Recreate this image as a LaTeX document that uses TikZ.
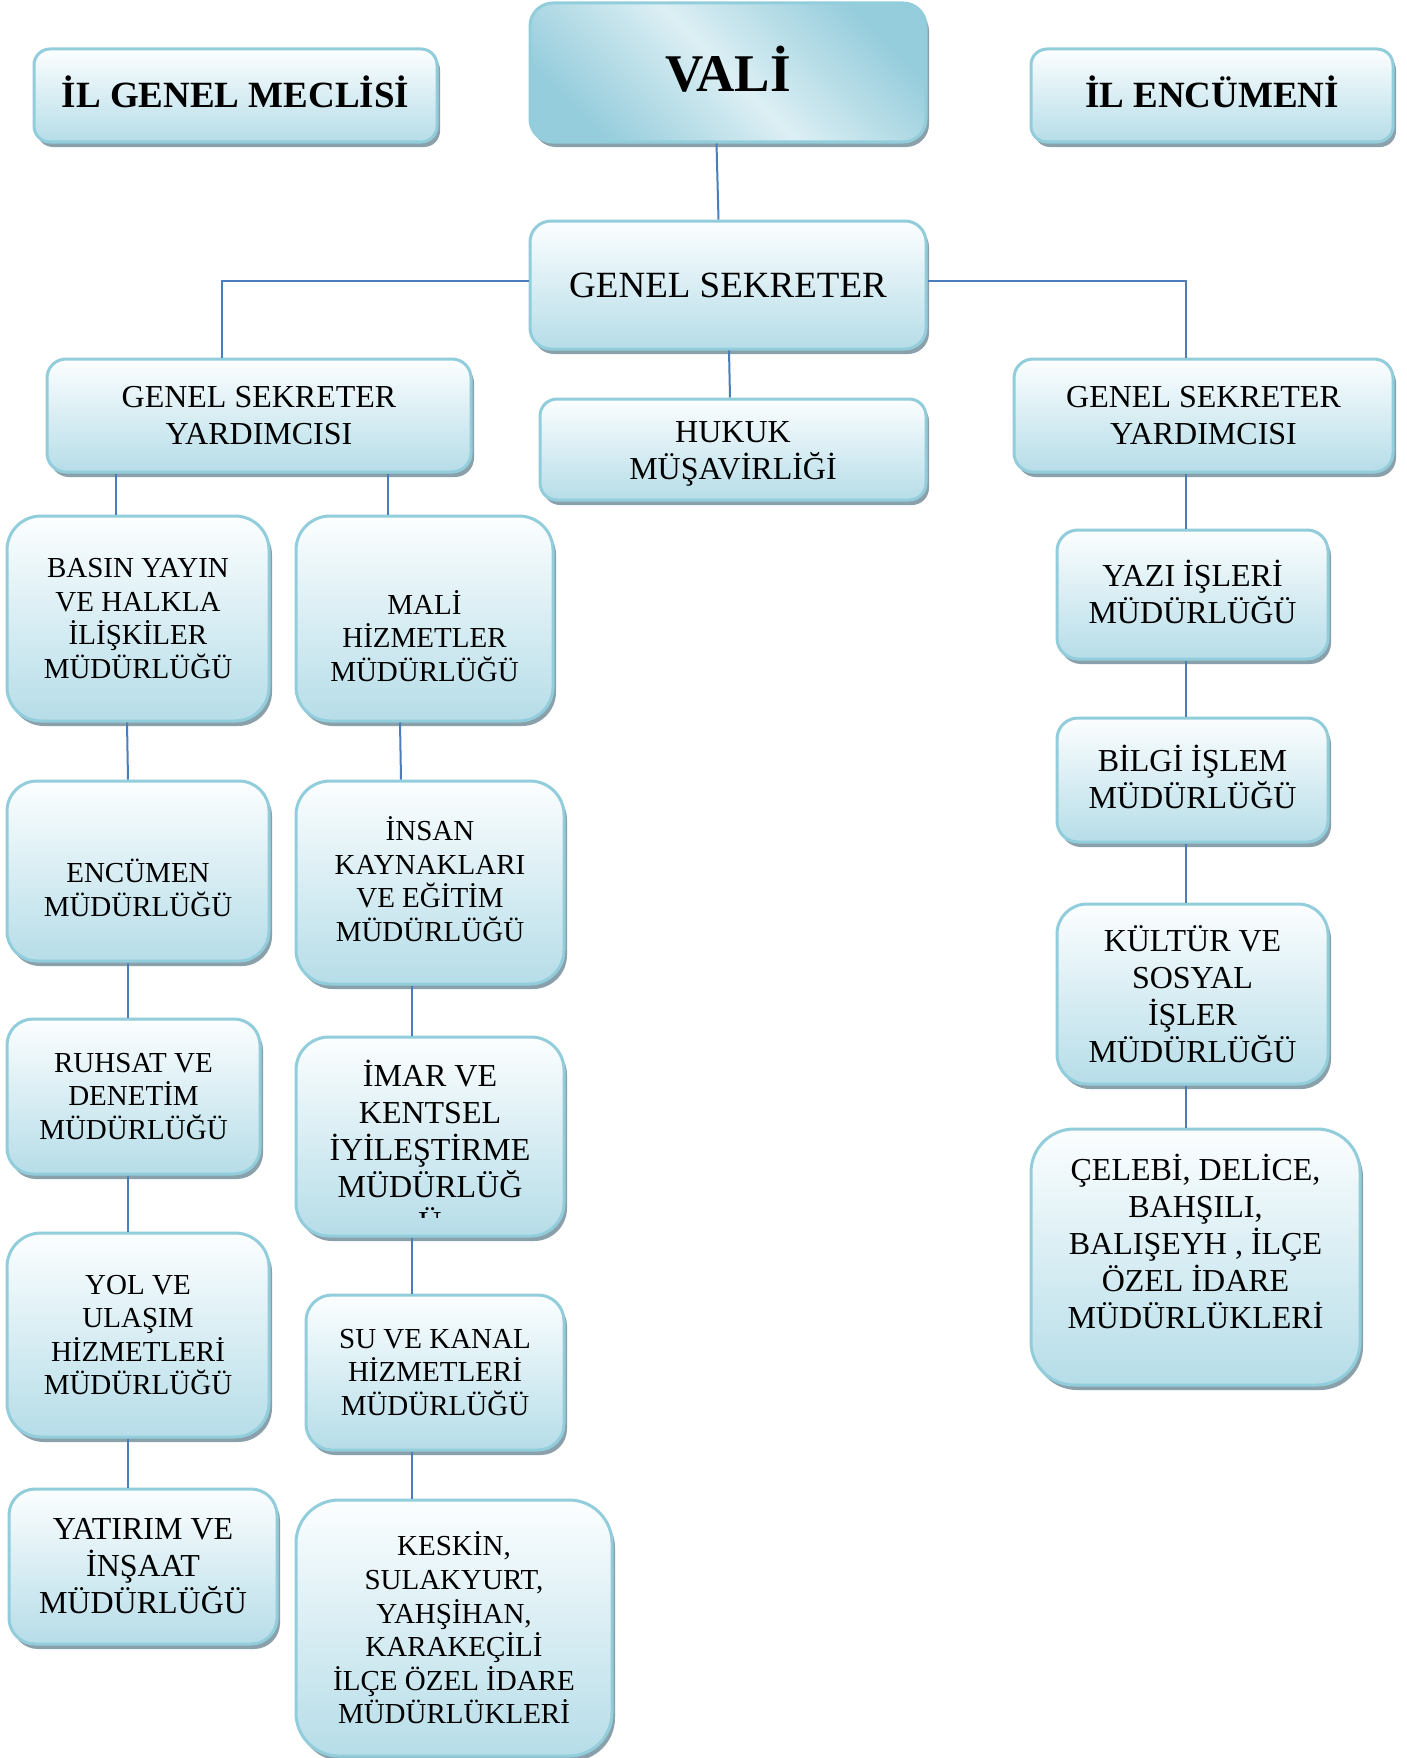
\documentclass[tikz,border=0pt]{standalone}
\usepackage{fontspec}
\setmainfont{Liberation Serif}
\usetikzlibrary{shadows}
\definecolor{boxline}{RGB}{146,205,220}
\definecolor{boxbot}{RGB}{182,221,232}
\definecolor{boxtop}{RGB}{252,254,255}
\definecolor{validark}{RGB}{150,205,220}
\definecolor{valilight}{RGB}{220,239,244}
\definecolor{shadowgray}{RGB}{138,160,170}
\definecolor{linkblue}{RGB}{74,126,187}
\newcommand{\dn}[1]{\rule[-#1]{0pt}{#1}}
\tikzset{
  box/.style={draw=boxline, line width=3pt, top color=boxtop, bottom color=boxbot,
    general shadow={fill=shadowgray, shadow xshift=3pt, shadow yshift=-5pt},
    align=center, inner sep=0pt},
  f29/.style={font=\fontsize{29}{33.6}\selectfont},
  f32/.style={font=\fontsize{32}{37}\selectfont},
  f37/.style={font=\fontsize{37}{42}\selectfont},
  fbold/.style={font=\fontsize{37}{42}\selectfont\bfseries},
  link/.style={draw=linkblue, line width=2pt}
}
\begin{document}
\begin{tikzpicture}[x=1pt,y=-1pt]
\useasboundingbox[fill=white] (0,0) rectangle (1406,1758);

\node[box, fbold, minimum width=403pt, minimum height=93pt, rounded corners=16pt] (meclis) at (235.5,95.5) {İL GENEL MECLİSİ\dn{7pt}};
\node[box, top color=validark, bottom color=validark, middle color=valilight, shading angle=-45,
  font=\fontsize{53}{60}\selectfont\bfseries, minimum width=396pt, minimum height=139pt, rounded corners=23pt] (vali) at (728,72.5) {VALİ\dn{7pt}};
\node[box, fbold, minimum width=362pt, minimum height=93pt, rounded corners=16pt] (encumeni) at (1212,95.5) {İL ENCÜMENİ\dn{7pt}};

\node[box, f37, minimum width=396pt, minimum height=128pt, rounded corners=21pt] (gs) at (728,285) {GENEL SEKRETER};
\node[box, f32, minimum width=424pt, minimum height=113pt, rounded corners=19pt] (gsyL) at (259,415.5) {GENEL SEKRETER\\YARDIMCISI};
\node[box, f32, minimum width=386pt, minimum height=101pt, rounded corners=17pt] (hukuk) at (733,449.5) {HUKUK\rule{0pt}{30pt}\\MÜŞAVİRLİĞİ};
\node[box, f32, minimum width=379pt, minimum height=113pt, rounded corners=19pt] (gsyR) at (1203.5,415.5) {GENEL SEKRETER\\YARDIMCISI};

\node[box, f29, minimum width=262pt, minimum height=205pt, rounded corners=34pt] (basin) at (138,618.5) {BASIN YAYIN\\VE HALKLA\\İLİŞKİLER\\MÜDÜRLÜĞÜ};
\node[box, f29, minimum width=262pt, minimum height=180pt, rounded corners=30pt] (encumen) at (138,871) {\strut\\ENCÜMEN\\MÜDÜRLÜĞÜ};
\node[box, f29, minimum width=253pt, minimum height=155pt, rounded corners=26pt] (ruhsat) at (133.5,1096.5) {RUHSAT VE\\DENETİM\\MÜDÜRLÜĞÜ};
\node[box, f29, minimum width=262pt, minimum height=204pt, rounded corners=34pt] (yol) at (138,1335) {YOL VE\\ULAŞIM\\HİZMETLERİ\\MÜDÜRLÜĞÜ};
\node[box, f32, minimum width=268pt, minimum height=155pt, rounded corners=26pt] (yatirim) at (143,1566.5) {YATIRIM VE\\İNŞAAT\\MÜDÜRLÜĞÜ};

\node[box, f29, minimum width=257pt, minimum height=205pt, rounded corners=34pt] (mali) at (424.5,618.5) {\strut\\MALİ\\HİZMETLER\\MÜDÜRLÜĞÜ};
\node[box, f29, minimum width=268pt, minimum height=203pt, rounded corners=34pt] (insan) at (430,882.5) {İNSAN\\KAYNAKLARI\\VE EĞİTİM\\MÜDÜRLÜĞÜ\dn{7pt}};
\node[box, f32, minimum width=268pt, minimum height=199pt, rounded corners=33pt] (imar) at (430,1136.5) {İMAR VE\\KENTSEL\\İYİLEŞTİRME\\MÜDÜRLÜĞ\dn{16pt}};
\begin{scope}
\clip ([xshift=-40pt,yshift=-61pt]imar.center) rectangle ([xshift=40pt,yshift=-81pt]imar.center);
\node[f32, anchor=base, inner sep=0pt] (imarU) at ([yshift=-96.5pt]imar.center) {Ü};
\end{scope}
\node[box, f29, minimum width=258pt, minimum height=155pt, rounded corners=26pt] (su) at (435,1372.5) {SU VE KANAL\\HİZMETLERİ\\MÜDÜRLÜĞÜ};
\node[box, f29, minimum width=316pt, minimum height=256pt, rounded corners=43pt] (keskin) at (454,1628) {KESKİN,\\SULAKYURT,\\YAHŞİHAN,\\KARAKEÇİLİ\\İLÇE ÖZEL İDARE\\MÜDÜRLÜKLERİ};

\node[box, f32, minimum width=271pt, minimum height=129pt, rounded corners=21pt] (yazi) at (1192.5,594.5) {YAZI İŞLERİ\\MÜDÜRLÜĞÜ\dn{5pt}};
\node[box, f32, minimum width=271pt, minimum height=124pt, rounded corners=21pt] (bilgi) at (1192.5,780) {BİLGİ İŞLEM\\MÜDÜRLÜĞÜ\dn{7pt}};
\node[box, f32, minimum width=271pt, minimum height=180pt, rounded corners=30pt] (kultur) at (1192.5,994) {KÜLTÜR VE\\SOSYAL\\İŞLER\\MÜDÜRLÜĞÜ};
\node[box, f32, minimum width=329pt, minimum height=256pt, rounded corners=43pt] (celebi) at (1195.5,1257) {ÇELEBİ, DELİCE,\\BAHŞILI,\\BALIŞEYH , İLÇE\\ÖZEL İDARE\\MÜDÜRLÜKLERİ\dn{32pt}};

\draw[link] ([xshift=-11.5pt]vali.south) -- ([xshift=-9.5pt]gs.north);
\draw[link] ([xshift=1pt]gs.south) -- ([xshift=-3pt]hukuk.north);
\draw[link] ([yshift=4pt]gs.west) -| ([xshift=-37pt]gsyL.north);
\draw[link] ([yshift=4pt]gs.east) -| ([xshift=-17.5pt]gsyR.north);

\draw[link] ([xshift=-143pt]gsyL.south) -- ([xshift=-22pt]basin.north);
\draw[link] ([xshift=-11pt]basin.south) -- ([xshift=-10pt]encumen.north);
\draw[link] ([xshift=-10pt]encumen.south) -- ([xshift=-5.5pt]ruhsat.north);
\draw[link] ([xshift=-5.5pt]ruhsat.south) -- ([xshift=-10pt]yol.north);
\draw[link] ([xshift=-10pt]yol.south) -- ([xshift=-15pt]yatirim.north);

\draw[link] ([xshift=129pt]gsyL.south) -- ([xshift=-36.5pt]mali.north);
\draw[link] ([xshift=-24.5pt]mali.south) -- ([xshift=-29pt]insan.north);
\draw[link] ([xshift=-18.5pt]insan.south) -- ([xshift=-18.5pt]imar.north);
\draw[link] ([xshift=-18.5pt]imar.south) -- ([xshift=-23.5pt]su.north);
\draw[link] ([xshift=-23.5pt]su.south) -- ([xshift=-42.5pt]keskin.north);

\draw[link] ([xshift=-17.5pt]gsyR.south) -- ([xshift=-6.5pt]yazi.north);
\draw[link] ([xshift=-6.5pt]yazi.south) -- ([xshift=-6.5pt]bilgi.north);
\draw[link] ([xshift=-6.5pt]bilgi.south) -- ([xshift=-6.5pt]kultur.north);
\draw[link] ([xshift=-6.5pt]kultur.south) -- ([xshift=-9.5pt]celebi.north);
\end{tikzpicture}
\end{document}
